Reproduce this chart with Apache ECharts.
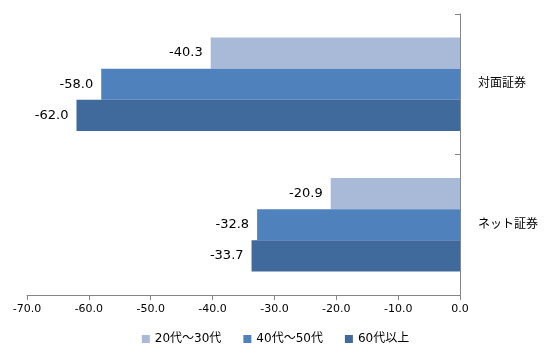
<!DOCTYPE html>
<html><head><meta charset="utf-8">
<script src="https://cdn.jsdelivr.net/npm/echarts@6/dist/echarts.min.js"></script>
<style>html,body{margin:0;padding:0;background:#fff}#c{width:551px;height:360px}</style>
</head><body><div id="c"></div>
<script>
var categories = ['ネット証券', '対面証券'];
var seriesNames = ['20代～30代', '40代～50代', '60代以上'];
var age2030 = [-20.9, -40.3];
var age4050 = [-32.8, -58.0];
var age60 = [-33.7, -62.0];
var colors = ['#A9B9D8', '#4F81BD', '#416A9C'];
var font = '"DejaVu Sans", "Noto Sans CJK JP", sans-serif';
var data = [age2030, age4050, age60];
var chart = echarts.init(document.getElementById('c'));
chart.setOption({
  animation: false,
  textStyle: {fontFamily: font},
  grid: {left: 27, right: 91, top: 14, bottom: 65, containLabel: false},
  legend: {
    bottom: 10, left: 'center', itemWidth: 8, itemHeight: 8, itemGap: 22,
    icon: 'rect',
    textStyle: {fontSize: 12, color: '#000', fontFamily: font},
    data: seriesNames
  },
  xAxis: {
    type: 'value', min: -70, max: 0, interval: 10,
    axisLine: {show: true, lineStyle: {color: '#868686'}},
    axisTick: {show: true, length: 5, lineStyle: {color: '#868686'}},
    splitLine: {show: false},
    axisLabel: {formatter: function(v){return v.toFixed(1);}, fontSize: 11, color: '#000', margin: 9}
  },
  yAxis: {
    type: 'category', position: 'right', data: categories,
    axisLine: {show: true, lineStyle: {color: '#868686'}},
    axisTick: {show: true, inside: true, length: 5, lineStyle: {color: '#868686'}},
    axisLabel: {fontSize: 12, color: '#000', margin: 18}
  },
  series: seriesNames.map(function(n, i){
    return {
      name: n, type: 'bar', data: data[i],
      barGap: '0%', barCategoryGap: '33.5%',
      itemStyle: {color: colors[i]},
      label: {show: true, position: 'left', distance: 8, fontSize: 13, color: '#000',
        formatter: function(p){return p.value.toFixed(1);}}
    };
  })
});
</script></body></html>
